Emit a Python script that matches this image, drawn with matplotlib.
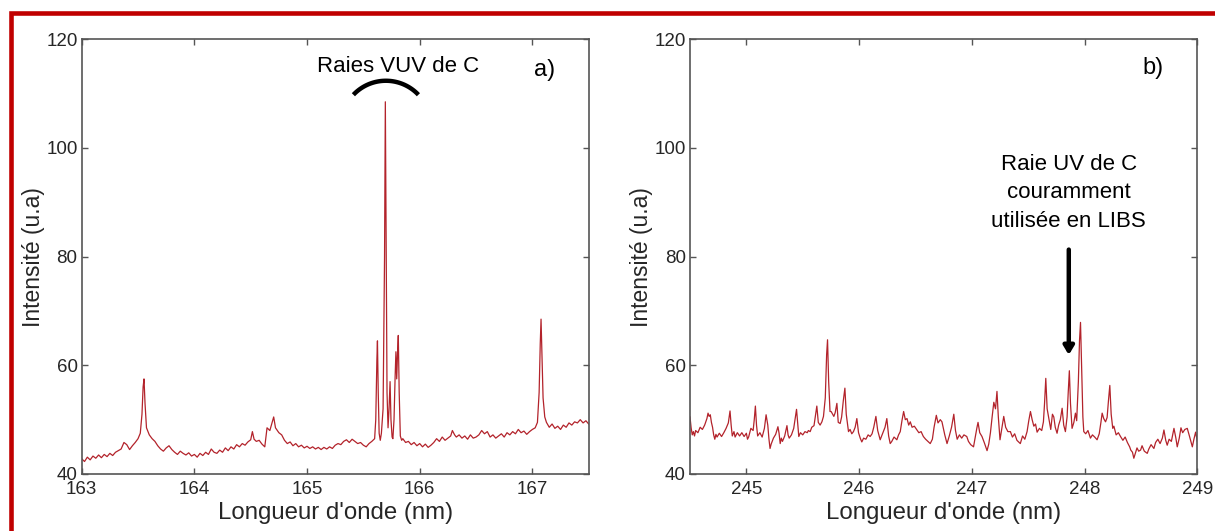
import numpy as np
import matplotlib
matplotlib.use("Agg")
import matplotlib.pyplot as plt
from matplotlib.patches import Rectangle

plt.rcParams['font.family'] = ['Liberation Sans', 'DejaVu Sans']

# ---------------- data: panel a (VUV) ----------------
wl_a = [163.000, 163.025, 163.050, 163.075, 163.100, 163.125, 163.150, 163.175, 163.200, 163.225,
        163.250, 163.275, 163.300, 163.325, 163.350, 163.375, 163.400, 163.425, 163.450, 163.475,
        163.500, 163.520, 163.535, 163.545, 163.553, 163.562, 163.575, 163.600, 163.625, 163.650,
        163.675, 163.700, 163.725, 163.750, 163.775, 163.800, 163.825, 163.850, 163.875, 163.900,
        163.925, 163.950, 163.975, 164.000, 164.025, 164.050, 164.075, 164.100, 164.125, 164.150,
        164.175, 164.200, 164.225, 164.250, 164.275, 164.300, 164.325, 164.350, 164.375, 164.400,
        164.425, 164.450, 164.475, 164.500, 164.515, 164.530, 164.550, 164.575, 164.600, 164.625,
        164.645, 164.670, 164.690, 164.704, 164.720, 164.750, 164.775, 164.800, 164.825, 164.850,
        164.875, 164.900, 164.925, 164.950, 164.975, 165.000, 165.025, 165.050, 165.075, 165.100,
        165.125, 165.150, 165.175, 165.200, 165.225, 165.250, 165.275, 165.300, 165.325, 165.350,
        165.375, 165.400, 165.425, 165.450, 165.475, 165.500, 165.525, 165.550, 165.575, 165.600,
        165.610, 165.620, 165.625, 165.632, 165.640, 165.650, 165.660, 165.675, 165.688, 165.695,
        165.702, 165.710, 165.719, 165.728, 165.737, 165.745, 165.755, 165.762, 165.772, 165.782,
        165.789, 165.796, 165.803, 165.810, 165.818, 165.828, 165.840, 165.850, 165.875, 165.900,
        165.925, 165.950, 165.975, 166.000, 166.025, 166.050, 166.075, 166.100, 166.125, 166.150,
        166.175, 166.200, 166.225, 166.250, 166.275, 166.290, 166.310, 166.325, 166.350, 166.375,
        166.400, 166.425, 166.450, 166.475, 166.500, 166.525, 166.550, 166.575, 166.600, 166.625,
        166.650, 166.675, 166.700, 166.725, 166.750, 166.775, 166.800, 166.825, 166.850, 166.875,
        166.900, 166.925, 166.950, 166.975, 167.000, 167.025, 167.045, 167.060, 167.070, 167.077,
        167.085, 167.095, 167.110, 167.125, 167.150, 167.175, 167.200, 167.225, 167.250, 167.275,
        167.300, 167.325, 167.350, 167.375, 167.400, 167.425, 167.450, 167.475, 167.500]
int_a = [42.8, 42.3, 43.1, 42.6, 43.3, 42.9, 43.5, 43.0, 43.6, 43.2,
         43.8, 43.4, 44.0, 44.3, 44.6, 45.8, 45.4, 44.5, 45.2, 45.8,
         46.5, 47.5, 51.0, 56.0, 57.5, 53.0, 48.5, 47.2, 46.5, 46.0,
         45.2, 44.6, 44.2, 44.8, 45.2, 44.5, 44.0, 43.6, 44.2, 43.8,
         43.5, 43.9, 43.3, 43.6, 43.1, 43.8, 43.4, 44.0, 43.6, 44.6,
         44.0, 43.8, 44.4, 44.0, 44.8, 44.3, 45.0, 44.6, 45.4, 45.0,
         45.6, 45.3, 45.9, 46.3, 47.8, 46.4, 46.0, 46.2, 45.5, 45.0,
         48.5, 48.0, 49.5, 50.5, 48.5, 47.6, 47.2, 46.2, 45.6, 45.9,
         45.2, 45.6, 45.0, 45.3, 44.8, 45.1, 44.7, 45.0, 44.6, 44.9,
         44.5, 44.9, 44.6, 45.0, 44.7, 45.3, 45.6, 45.4, 46.0, 46.3,
         45.8, 46.4, 46.0, 45.6, 45.8, 45.3, 45.0, 45.6, 46.0, 46.5,
         50.0, 61.0, 64.5, 55.0, 47.5, 46.2, 47.5, 52.0, 80.0, 108.5,
         85.0, 55.0, 48.5, 52.0, 57.0, 50.0, 46.8, 46.5, 50.0, 58.0,
         62.5, 57.5, 62.0, 65.5, 55.0, 47.0, 46.2, 46.5, 45.8, 46.0,
         45.4, 45.8, 45.2, 45.6, 45.0, 45.5, 44.9, 45.3, 45.8, 46.5,
         46.0, 46.8, 46.2, 46.6, 47.0, 48.0, 47.2, 46.8, 47.2, 46.6,
         47.0, 46.4, 47.2, 46.6, 46.8, 47.2, 48.0, 47.4, 47.8, 46.8,
         47.2, 46.6, 47.0, 47.4, 46.8, 47.6, 47.2, 47.8, 47.4, 48.2,
         47.6, 47.9, 47.3, 47.8, 48.2, 48.5, 49.5, 55.0, 64.0, 68.5,
         62.0, 54.0, 50.5, 49.5, 48.6, 49.2, 48.4, 48.8, 48.2, 49.0,
         48.6, 49.4, 49.0, 49.6, 49.4, 50.0, 49.4, 49.8, 49.2]

# ---------------- data: panel b (UV) ----------------
wl_b = [244.50, 244.51, 244.52, 244.53, 244.54, 244.55, 244.57, 244.59, 244.61, 244.63,
        244.65, 244.66, 244.67, 244.68, 244.69, 244.70, 244.71, 244.72, 244.73, 244.74,
        244.76, 244.78, 244.80, 244.82, 244.84, 244.855, 244.865, 244.875, 244.89, 244.90,
        244.92, 244.94, 244.96, 244.98, 245.00, 245.01, 245.02, 245.04, 245.06, 245.07,
        245.08, 245.09, 245.10, 245.12, 245.14, 245.16, 245.175, 245.19, 245.20, 245.21,
        245.22, 245.24, 245.26, 245.28, 245.29, 245.30, 245.31, 245.32, 245.34, 245.36,
        245.37, 245.38, 245.40, 245.42, 245.435, 245.445, 245.455, 245.465, 245.48, 245.50,
        245.52, 245.54, 245.55, 245.566, 245.58, 245.60, 245.615, 245.625, 245.638, 245.654,
        245.67, 245.684, 245.70, 245.712, 245.720, 245.730, 245.742, 245.752, 245.765, 245.776,
        245.788, 245.803, 245.815, 245.832, 245.845, 245.86, 245.874, 245.886, 245.906, 245.92,
        245.935, 245.950, 245.965, 245.980, 245.995, 246.01, 246.024, 246.04, 246.06, 246.08,
        246.098, 246.115, 246.13, 246.149, 246.165, 246.187, 246.20, 246.215, 246.230, 246.246,
        246.262, 246.276, 246.29, 246.31, 246.335, 246.35, 246.365, 246.38, 246.395, 246.41,
        246.425, 246.44, 246.454, 246.47, 246.49, 246.513, 246.53, 246.55, 246.57, 246.59,
        246.61, 246.631, 246.65, 246.665, 246.685, 246.70, 246.72, 246.735, 246.76, 246.78,
        246.80, 246.82, 246.84, 246.855, 246.87, 246.89, 246.91, 246.93, 246.955, 246.97,
        246.99, 247.015, 247.03, 247.045, 247.055, 247.07, 247.09, 247.11, 247.135, 247.15,
        247.165, 247.18, 247.195, 247.21, 247.223, 247.235, 247.25, 247.265, 247.283, 247.30,
        247.32, 247.342, 247.36, 247.38, 247.40, 247.43, 247.45, 247.47, 247.49, 247.505,
        247.52, 247.535, 247.55, 247.565, 247.579, 247.60, 247.62, 247.635, 247.645, 247.656,
        247.668, 247.686, 247.70, 247.715, 247.727, 247.74, 247.756, 247.77, 247.785, 247.801,
        247.815, 247.83, 247.845, 247.855, 247.865, 247.875, 247.889, 247.905, 247.919, 247.93,
        247.945, 247.955, 247.964, 247.975, 247.985, 247.993, 248.01, 248.03, 248.052, 248.07,
        248.09, 248.111, 248.13, 248.145, 248.156, 248.17, 248.186, 248.20, 248.212, 248.224,
        248.236, 248.25, 248.26, 248.28, 248.30, 248.319, 248.34, 248.36, 248.38, 248.40,
        248.41, 248.425, 248.437, 248.45, 248.465, 248.48, 248.497, 248.51, 248.53, 248.556,
        248.57, 248.59, 248.615, 248.63, 248.65, 248.67, 248.69, 248.704, 248.72, 248.733,
        248.75, 248.77, 248.793, 248.81, 248.822, 248.84, 248.855, 248.87, 248.89, 248.911,
        248.93, 248.956, 248.97, 248.985, 249.00]
int_b = [50.5, 48.5, 47.2, 47.8, 47.0, 48.0, 47.6, 48.6, 48.2, 49.0,
         50.2, 51.2, 50.6, 50.9, 49.5, 48.6, 47.2, 46.4, 47.3, 46.8,
         47.5, 46.9, 47.6, 48.4, 49.4, 51.6, 49.0, 47.0, 47.8, 46.8,
         47.6, 47.0, 47.6, 46.9, 47.5, 46.4, 46.8, 48.4, 48.0, 50.0,
         52.5, 49.0, 47.0, 47.6, 46.8, 48.4, 50.9, 49.0, 46.5, 44.7,
         45.5, 46.6, 47.3, 48.7, 47.5, 45.6, 46.6, 46.0, 47.0, 48.9,
         47.2, 46.6, 47.2, 48.4, 50.5, 51.9, 49.5, 46.9, 47.6, 47.2,
         47.8, 47.6, 48.0, 47.8, 48.6, 48.9, 51.0, 52.5, 49.5, 49.0,
         49.6, 50.6, 54.0, 62.0, 64.7, 57.0, 51.5, 51.5, 51.0, 50.6,
         51.3, 53.0, 49.5, 49.3, 50.5, 53.5, 55.8, 51.0, 47.8, 48.2,
         47.4, 47.8, 48.6, 50.2, 47.6, 46.6, 45.9, 46.6, 46.4, 47.2,
         46.9, 47.4, 48.6, 50.6, 48.0, 46.3, 47.0, 47.8, 48.6, 50.2,
         47.0, 45.6, 46.0, 46.8, 46.3, 47.2, 47.8, 49.8, 51.5, 50.0,
         50.2, 49.0, 49.6, 48.6, 48.8, 48.1, 47.6, 47.8, 46.9, 46.4,
         46.0, 45.6, 46.4, 48.6, 50.8, 49.4, 50.0, 49.6, 47.2, 45.6,
         47.0, 48.6, 51.0, 48.0, 46.4, 47.2, 46.6, 47.2, 46.9, 46.0,
         45.4, 45.0, 46.8, 48.5, 49.5, 47.6, 46.9, 45.8, 44.3, 45.5,
         47.6, 50.5, 53.2, 52.0, 55.2, 50.5, 46.3, 48.2, 50.6, 48.6,
         47.8, 47.8, 46.8, 47.4, 46.2, 45.6, 47.0, 46.4, 47.8, 49.8,
         51.5, 50.0, 48.8, 49.2, 47.7, 48.4, 48.0, 49.6, 53.0, 57.6,
         52.0, 49.9, 48.2, 51.0, 50.5, 48.6, 47.5, 49.0, 50.0, 52.1,
         49.0, 47.8, 50.5, 55.0, 59.0, 53.0, 48.4, 49.5, 51.2, 49.8,
         57.0, 64.5, 67.9, 59.0, 50.5, 47.8, 47.4, 48.0, 46.6, 47.2,
         46.8, 46.3, 47.4, 49.5, 51.2, 50.2, 49.6, 50.4, 53.5, 56.3,
         51.0, 48.4, 48.8, 47.2, 47.6, 46.9, 46.2, 46.8, 45.8, 45.0,
         44.4, 44.0, 42.9, 43.8, 44.8, 44.2, 44.4, 45.2, 44.2, 43.8,
         44.6, 45.4, 44.7, 45.8, 46.4, 45.6, 46.6, 48.1, 46.2, 45.3,
         46.4, 46.0, 48.4, 46.6, 45.0, 46.6, 48.5, 47.6, 48.2, 48.4,
         47.0, 45.0, 46.4, 47.7, 46.0]

xticks_a = [163, 164, 165, 166, 167]
xticks_b = [245, 246, 247, 248, 249]
yticks = [40, 60, 80, 100, 120]
xlabel = "Longueur d'onde (nm)"
ylabel = "Intensité (u.a)"

# ---------------- figure ----------------
W, H, DPI = 1215, 531, 100
fig = plt.figure(figsize=(W / DPI, H / DPI), dpi=DPI)
fig.patch.set_facecolor('white')

line_col = '#B3232B'
spine_col = '#555555'
txt_col = '#262626'


def px_rect(x0, x1, ytop, ybot):
    return [x0 / W, 1 - ybot / H, (x1 - x0) / W, (ybot - ytop) / H]


ax_a = fig.add_axes(px_rect(81.7, 588.7, 39.3, 474))
ax_b = fig.add_axes(px_rect(690, 1197.3, 39.3, 474))

for ax, wl, inten, xt, xl in [(ax_a, wl_a, int_a, xticks_a, (163, 167.5)),
                              (ax_b, wl_b, int_b, xticks_b, (244.5, 249))]:
    ax.plot(wl, inten, color=line_col, lw=0.9)
    ax.set_xlim(*xl)
    ax.set_ylim(40, 120)
    ax.set_xticks(xt)
    ax.set_yticks(yticks)
    ax.tick_params(direction='in', top=True, right=True, length=4, width=1,
                   color=spine_col, labelcolor=txt_col, labelsize=13.5)
    ax.tick_params(axis='x', pad=5)
    ax.tick_params(axis='y', pad=3)
    for s in ax.spines.values():
        s.set_color(spine_col)
        s.set_linewidth(1.2)
    ax.set_xlabel(xlabel, fontsize=17.3, color=txt_col, labelpad=3)
    ax.set_ylabel(ylabel, fontsize=16.5, color=txt_col, labelpad=1)

# annotations panel a
ax_a.text(165.81, 117.0, "Raies VUV de C", ha='center', va='top', fontsize=16, color='black')
ax_a.text(167.105, 114.3, "a)", ha='center', va='center', fontsize=17, color='black')
t = np.linspace(np.deg2rad(43.4), np.deg2rad(136.6), 60)
ax_a.plot(165.70 + 0.397 * np.cos(t), 104.14 + 8.23 * np.sin(t), color='black', lw=3.2,
          solid_capstyle='butt')

# annotations panel b
ax_b.text(248.61, 114.8, "b)", ha='center', va='center', fontsize=17, color='black')
ax_b.text(247.86, 91.75, "Raie UV de C\ncouramment\nutilisée en LIBS", ha='center', va='center',
          fontsize=16, color='black', linespacing=1.48)
ax_b.annotate("", xy=(247.86, 61.9), xytext=(247.86, 81.3),
              arrowprops=dict(arrowstyle='-|>,head_length=0.5,head_width=0.3',
                              lw=3.2, color='black', shrinkA=0, shrinkB=0))

# red frame around the figure (extends past right/bottom edges)
fig.add_artist(Rectangle((10.5, -60), 1400, H - 13 + 60, transform=None,
                         fill=False, edgecolor='#C00000', lw=3.3))

fig.savefig('out.png', dpi=DPI)
